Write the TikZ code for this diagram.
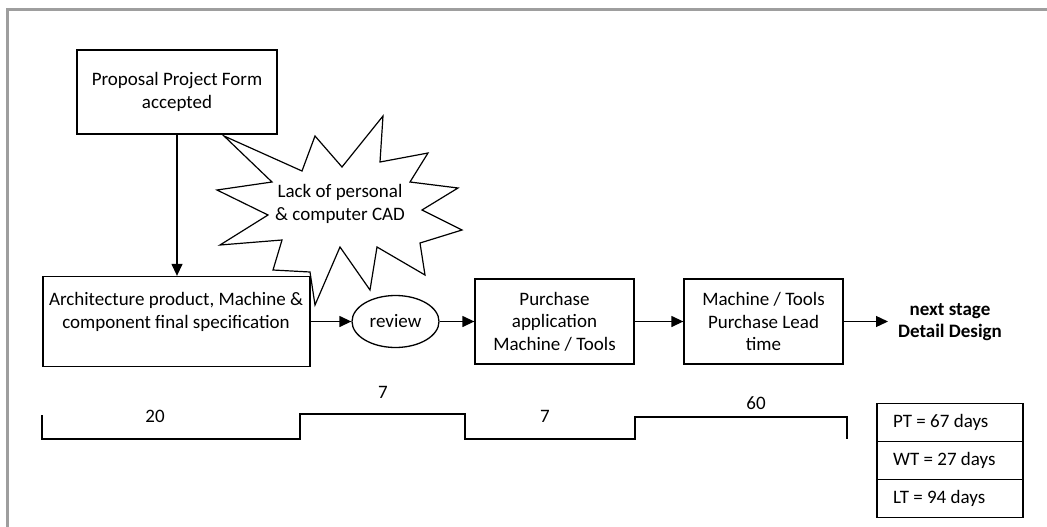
\documentclass[tikz,border=0pt]{standalone}
\usepackage{fontspec}
\setmainfont{Carlito}
\usetikzlibrary{arrows.meta,shapes.geometric}
\begin{document}
\begin{tikzpicture}[x=1pt,y=-1pt,
  box/.style={draw,line width=1.3pt,inner sep=0pt},
  txt/.style={font=\fontsize{19}{22.5}\selectfont,align=center,inner sep=0pt},
  arr/.style={line width=1.3pt,-{Triangle[length=12pt,width=11pt]}},
  tline/.style={line width=1.5pt},
  cell/.style={draw,line width=1.3pt,minimum width=146pt,minimum height=38pt,inner sep=0pt}
]
\useasboundingbox (0,0) rectangle (1047,527);
\clip (0,0) rectangle (1047,527);
\fill[white] (0,0) rectangle (1047,527);
% frame
\draw[black!38,line width=2.5pt] (7.5,540) -- (7.5,9.5) -- (1060,9.5);

% boxes
\node[box,txt,minimum width=200pt,minimum height=84pt] (prop) at (177,92) {Proposal Project Form\\accepted};
\node[box,minimum width=267pt,minimum height=90pt] (arch) at (176.5,321.5) {};
\node[txt] (archtxt) at (176,312) {Architecture product, Machine \&\\component final specification};
\node[draw,ellipse,line width=1.3pt,minimum width=87pt,minimum height=52pt,inner sep=0pt,txt] (review) at (395.5,321.5) {review};
\node[box,txt,minimum width=159pt,minimum height=85pt] (purch) at (554.5,321.5) {Purchase\\application\\Machine / Tools};
\node[box,txt,minimum width=159pt,minimum height=85pt] (mach) at (763.5,321.5) {Machine / Tools\\Purchase Lead\\time};
\node[txt,font=\fontsize{19}{22.5}\selectfont\bfseries] (next) at (950,322) {next stage\\Detail Design};
\coordinate (nx) at (888,321.5);

% star
\draw[line width=1.2pt] plot coordinates {(224,136) (302,171) (315,136) (342,167) (383,116) (380,162) (428,153) (410,182) (458,188) (422,210) (462,230) (420,243) (425,275) (377,247) (370,290) (340,247) (315,305) (310,272) (273,270) (282,240) (220,245) (268,215) (217,190) (272,182)} -- cycle;
\node[txt] (star) at (340,204) {Lack of personal\\\& computer CAD};

% arrows
\draw[arr] (prop.south) -- (prop.south |- arch.north);
\draw[arr] (arch.east) -- (review.west);
\draw[arr] (review.east) -- (purch.west);
\draw[arr] (purch.east) -- (mach.west);
\draw[arr] (mach.east) -- (nx);

% timeline
\draw[tline] (42,415) -- (42,439) -- (300,439) -- (300,414) -- (465,414) -- (465,439) -- (635,439) -- (635,417) -- (847,417) -- (847,439);
\node[txt] (t20) at (155,416) {20};
\node[txt] (t7a) at (383,392) {7};
\node[txt] (t7b) at (545,416) {7};
\node[txt] (t60) at (756,403) {60};

% summary table
\node[cell] (c1) at (950,422.5) {};
\node[cell] (c2) at (950,460.5) {};
\node[cell] (c3) at (950,498.5) {};
\node[txt,anchor=west] (pt) at (893,422) {PT = 67 days};
\node[txt,anchor=west] (wt) at (893,460) {WT = 27 days};
\node[txt,anchor=west] (lt) at (893,498) {LT = 94 days};
\end{tikzpicture}
\end{document}
